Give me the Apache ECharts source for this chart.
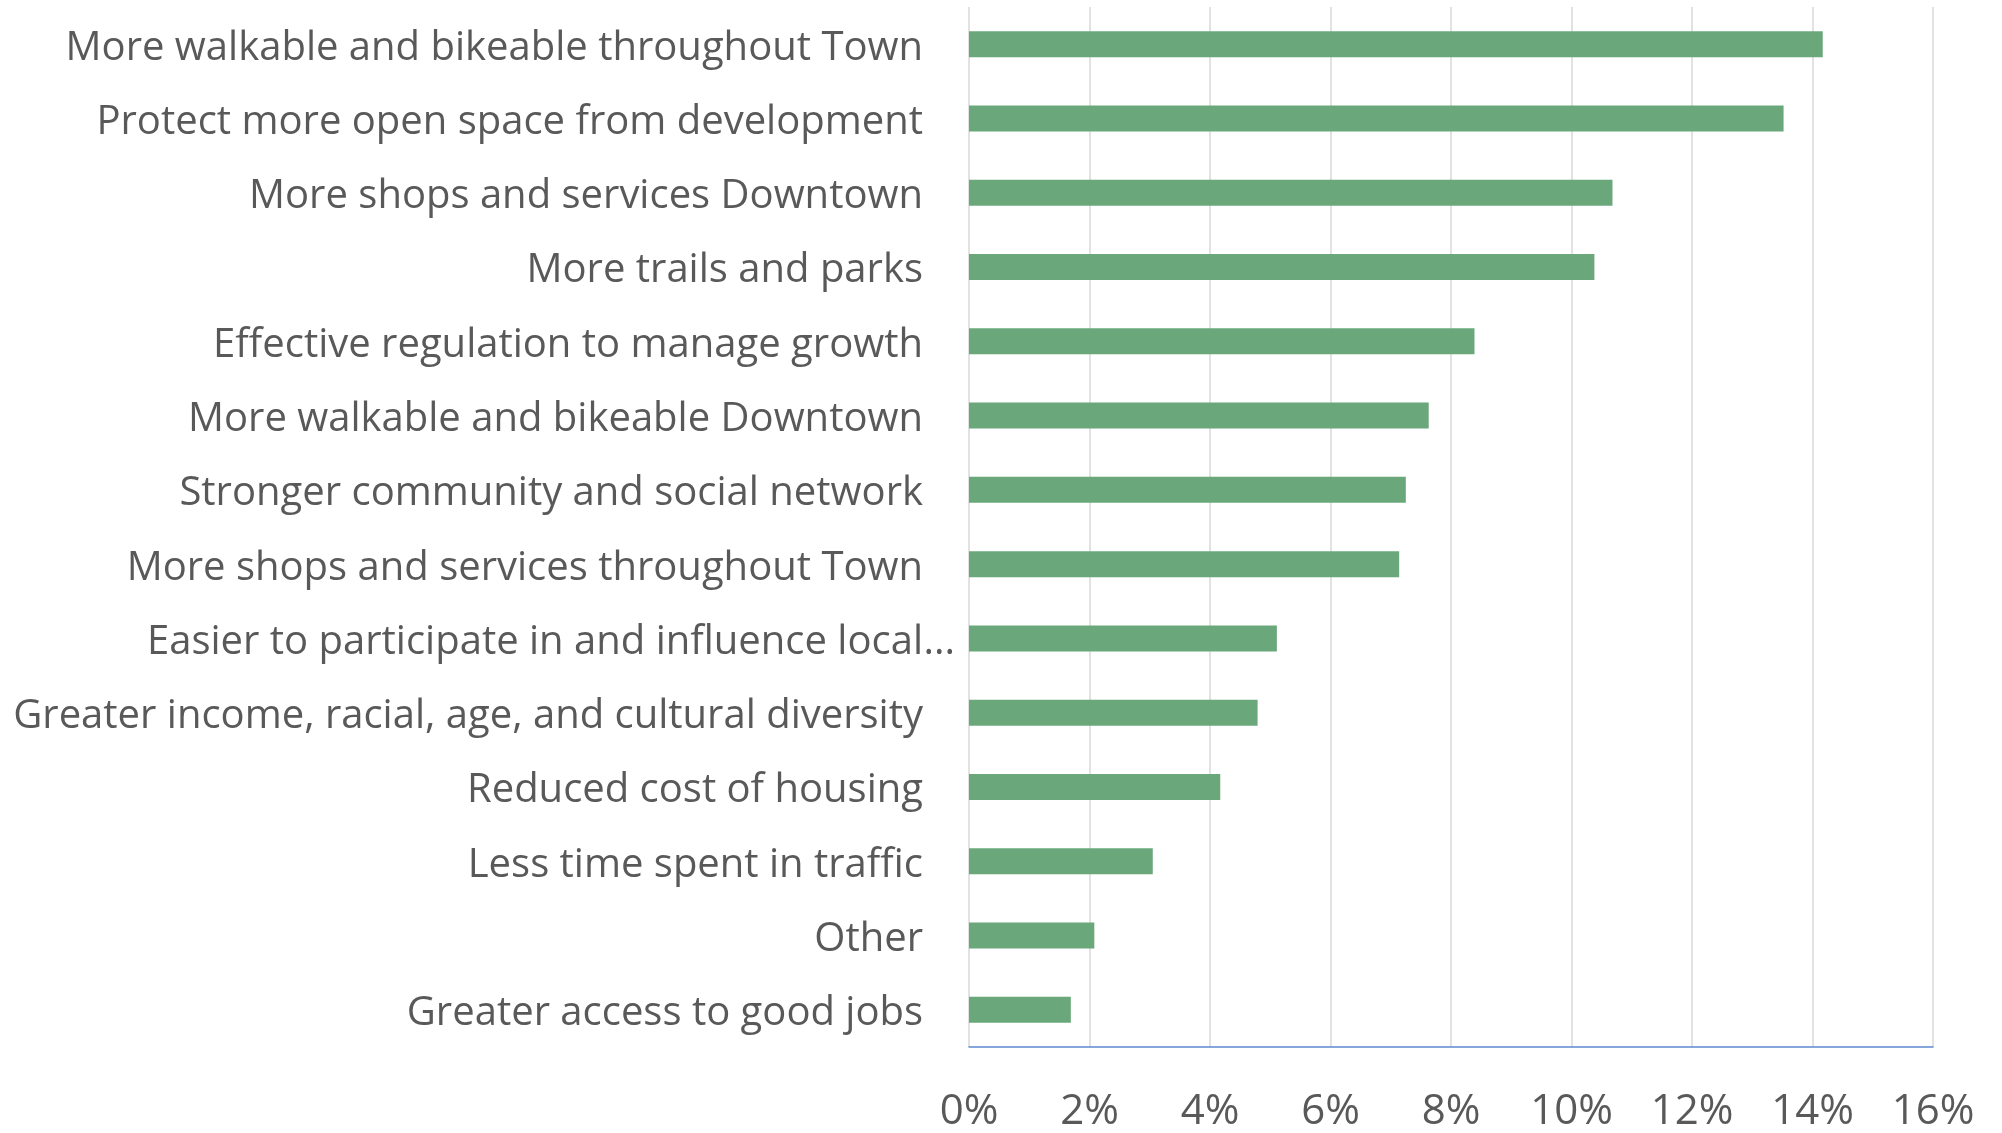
<!DOCTYPE html>
<html>
<head>
<meta charset="utf-8">
<script src="https://cdn.jsdelivr.net/npm/echarts@6/dist/echarts.min.js"></script>
<style>
  html, body { margin: 0; padding: 0; background: #ffffff; }
  #chart { width: 2002px; height: 1133px; }
</style>
</head>
<body>
<div id="chart"></div>
<script>
// Categories, top to bottom
const categories = [
  "More walkable and bikeable throughout Town",
  "Protect more open space from development",
  "More shops and services Downtown",
  "More trails and parks",
  "Effective regulation to manage growth",
  "More walkable and bikeable Downtown",
  "Stronger community and social network",
  "More shops and services throughout Town",
  "Easier to participate in and influence local...",
  "Greater income, racial, age, and cultural diversity",
  "Reduced cost of housing",
  "Less time spent in traffic",
  "Other",
  "Greater access to good jobs"
];
// Share of responses (%)
const values = [14.17, 13.52, 10.68, 10.38, 8.39, 7.63, 7.25, 7.14, 5.11, 4.79, 4.17, 3.05, 2.08, 1.69];
const xTicks = { min: 0, max: 16, interval: 2 };

const FONT = "Open Sans";
const TEXT = "#595959";
const CAT_FS = 40;

const chart = echarts.init(document.getElementById('chart'), null, { renderer: 'canvas' });
chart.setOption({
  backgroundColor: '#ffffff',
  animation: false,
  grid: { left: 969, right: 69, top: 7, bottom: 82, containLabel: false },
  xAxis: {
    type: 'value',
    min: xTicks.min, max: xTicks.max, interval: xTicks.interval,
    axisLine: { show: true, lineStyle: { color: '#5b8bd0', width: 1.5 } },
    axisTick: { show: false },
    splitLine: { show: true, lineStyle: { color: '#d9d9d9', width: 1.5 } },
    axisLabel: {
      formatter: v => v + '%',
      color: TEXT, fontFamily: FONT, fontSize: 42, margin: 44
    }
  },
  yAxis: {
    type: 'category',
    inverse: true,
    data: categories,
    axisLine: { show: false },
    axisTick: { show: false },
    splitLine: { show: false },
    axisLabel: {
      interval: 0,
      color: TEXT, fontFamily: FONT, fontSize: CAT_FS, margin: 14,
      padding: [8, 0, 0, 0],
      formatter: function (v) {
        if (v.endsWith('...')) {
          return '{a|' + v.slice(0, -3) + '}{b|...}';
        }
        return '{a|' + v + '}{b| }';
      },
      rich: {
        a: { color: TEXT, fontFamily: FONT, fontSize: CAT_FS },
        b: { color: TEXT, fontFamily: FONT, fontSize: CAT_FS, width: 32 }
      }
    }
  },
  series: [{
    type: 'bar',
    data: values,
    barCategoryGap: '65%',
    itemStyle: { color: '#6aa87b' },
    silent: true
  }]
});
</script>
</body>
</html>
